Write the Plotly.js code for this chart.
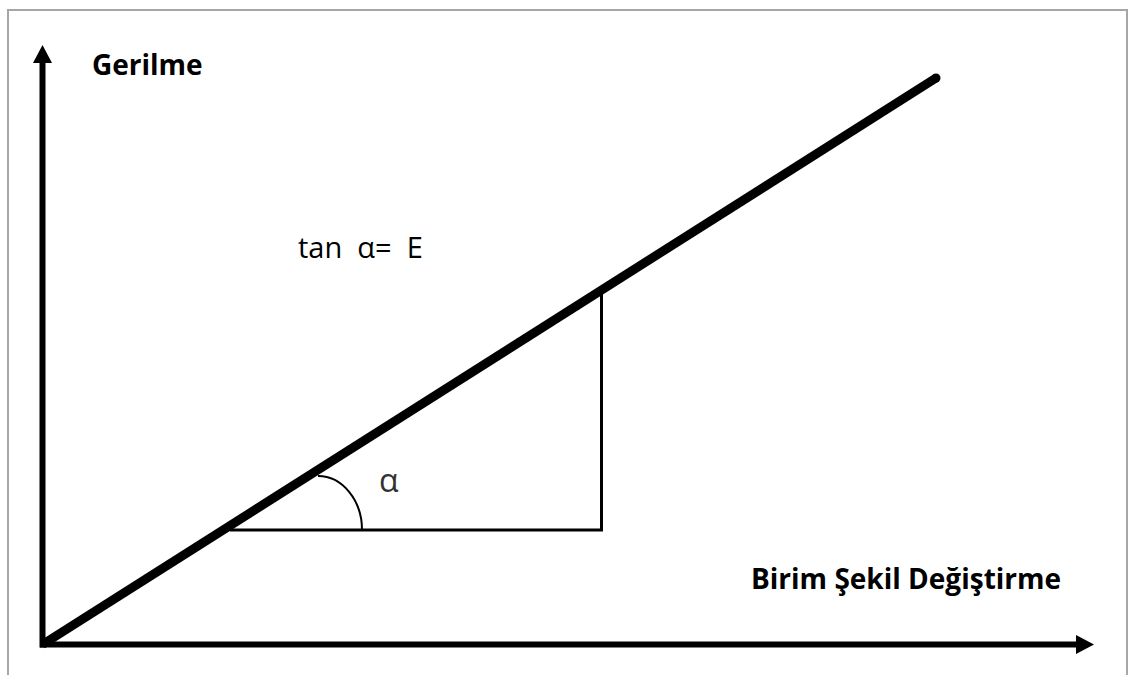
<!DOCTYPE html>
<html>
<head>
<meta charset="utf-8">
<script src="https://cdn.plot.ly/plotly-3.0.1.min.js"></script>
<style>html,body{margin:0;padding:0;background:#fff;}#chart{width:1128px;height:675px;}</style>
</head>
<body>
<div id="chart"></div>
<script>
// Stress–strain diagram (linear elastic region), values in diagram units
const strain = [0, 893.5];
const stress = [0, 566.5];
// Right triangle used to show the slope angle alpha
const triX = [187.5, 559, 559];
const triY = [114.5, 114.5, 352.5];
// Axis extents (arrow tips)
const xAxisEnd = 1051.5;
const yAxisEnd = 599.5;
// Labels
const yLabel = 'Gerilme';
const xLabel = 'Birim Şekil Değiştirme';
const formula = 'tan\u00A0\u00A0α=\u00A0\u00A0E';
const angleLabel = 'α';

const head = 18, half = 9.5;

const traces = [
  {x: triX, y: triY, mode: 'lines', line: {color: '#000', width: 3}, hoverinfo: 'skip', showlegend: false},
  {x: strain, y: stress, mode: 'lines', line: {color: '#000', width: 9}, hoverinfo: 'skip', showlegend: false},
  {x: [strain[1]], y: [stress[1]], mode: 'markers', marker: {color: '#000', size: 9}, hoverinfo: 'skip', showlegend: false}
];

// arc from the thick line down to the horizontal leg (quarter ellipse via cubic bezier)
const ax0 = 275.5, ay0 = 168.5, ax1 = 319.5, ay1 = triY[0];
const k = 0.5523;
const arcPath = `M ${ax0},${ay0} C ${ax0 + k*(ax1-ax0)},${ay0} ${ax1},${ay1 + k*(ay0-ay1)} ${ax1},${ay1}`;

const shapes = [
  // frame
  {type: 'path', xref: 'paper', yref: 'paper', path: `M ${8/1128},0 L ${8/1128},${1-10/675} L ${1127/1128},${1-10/675} L ${1127/1128},0`, line: {color: '#a6a6a6', width: 2}},
  // x axis
  {type: 'line', xref: 'x', yref: 'y', x0: -2.5, y0: 0, x1: xAxisEnd - head + 2, y1: 0, line: {color: '#000', width: 6}},
  {type: 'path', xref: 'x', yref: 'y', path: `M ${xAxisEnd},0 L ${xAxisEnd-head},${half} L ${xAxisEnd-head},${-half} Z`, fillcolor: '#000', line: {color: '#000', width: 0}},
  // y axis
  {type: 'line', xref: 'x', yref: 'y', x0: 0, y0: -3, x1: 0, y1: yAxisEnd - head + 2, line: {color: '#000', width: 6}},
  {type: 'path', xref: 'x', yref: 'y', path: `M 0,${yAxisEnd} L ${-half},${yAxisEnd-head} L ${half},${yAxisEnd-head} Z`, fillcolor: '#000', line: {color: '#000', width: 0}},
  // angle arc
  {type: 'path', xref: 'x', yref: 'y', path: arcPath, line: {color: '#000', width: 2}}
];

const annotations = [
  {x: 47.5, y: 581, xref: 'x', yref: 'y', text: '<b>' + yLabel + '</b>', showarrow: false, xanchor: 'left', yanchor: 'middle', font: {family: 'Open Sans', size: 28, color: '#000'}},
  {x: 706.5, y: 67, xref: 'x', yref: 'y', text: '<b>' + xLabel + '</b>', showarrow: false, xanchor: 'left', yanchor: 'middle', font: {family: 'Open Sans', size: 28, color: '#000'}},
  {x: 253, y: 398, xref: 'x', yref: 'y', text: formula, showarrow: false, xanchor: 'left', yanchor: 'middle', font: {family: 'Open Sans', size: 29, color: '#000'}},
  {x: 334.5, y: 165, xref: 'x', yref: 'y', text: angleLabel, showarrow: false, xanchor: 'left', yanchor: 'middle', font: {family: 'Open Sans', size: 32, color: '#333'}}
];

const layout = {
  width: 1128, height: 675,
  margin: {l: 0, r: 0, t: 0, b: 0, pad: 0},
  paper_bgcolor: '#fff', plot_bgcolor: '#fff',
  xaxis: {range: [-42.5, 1085.5], visible: false, fixedrange: true},
  yaxis: {range: [-30.5, 644.5], visible: false, fixedrange: true},
  shapes: shapes,
  annotations: annotations,
  showlegend: false
};

Plotly.newPlot('chart', traces, layout, {displayModeBar: false, staticPlot: true});
</script>
</body>
</html>
